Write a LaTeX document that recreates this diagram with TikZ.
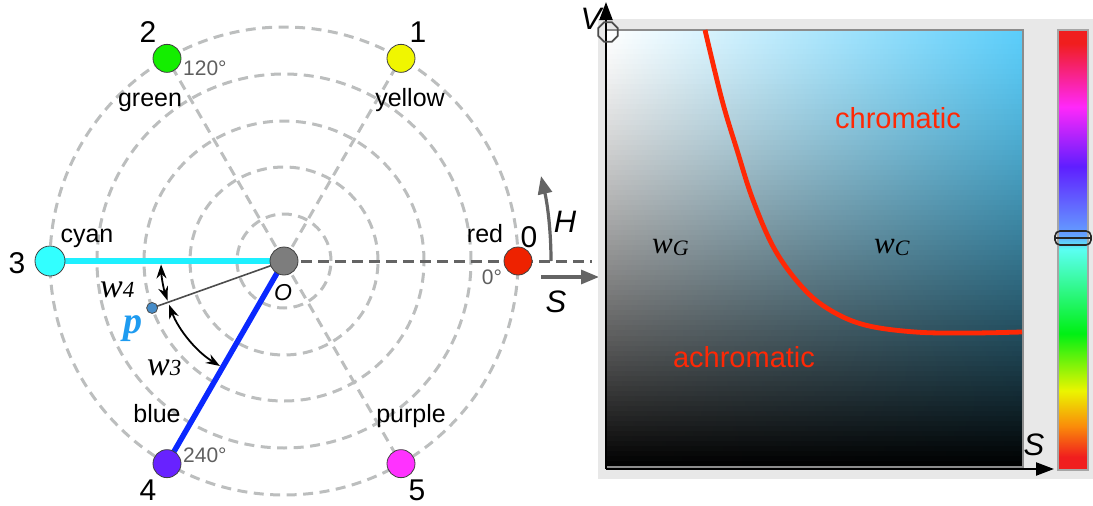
\documentclass[tikz,border=0pt]{standalone}
\usepackage{fontspec}
\setmainfont{Liberation Sans}
\newfontfamily\serifit{Liberation Serif}
\usetikzlibrary{arrows.meta,shapes.geometric}
\definecolor{ringgray}{RGB}{188,190,190}
\definecolor{axgray}{RGB}{100,100,100}
\definecolor{deggray}{RGB}{95,95,95}
\definecolor{cred}{RGB}{238,34,0}
\definecolor{cyellow}{RGB}{240,246,0}
\definecolor{cgreen}{RGB}{20,238,0}
\definecolor{ccyan}{RGB}{50,255,255}
\definecolor{cviolet}{RGB}{104,34,255}
\definecolor{cmag}{RGB}{255,50,255}
\definecolor{ogray}{RGB}{125,125,125}
\definecolor{linecyan}{RGB}{30,240,255}
\definecolor{lineblue}{RGB}{10,40,255}
\definecolor{pdot}{RGB}{70,140,200}
\definecolor{plabel}{RGB}{30,155,240}
\definecolor{panelgray}{RGB}{232,232,232}
\definecolor{sqcyan}{RGB}{90,205,250}
\definecolor{sqmid}{RGB}{145,228,252}
\definecolor{curvered}{RGB}{255,40,5}
\definecolor{hred}{RGB}{240,30,30}
\definecolor{horange}{RGB}{250,140,10}
\definecolor{hyellow}{RGB}{235,245,0}
\definecolor{hgreen}{RGB}{0,240,20}
\definecolor{hcyan}{RGB}{90,255,240}
\definecolor{hlblue}{RGB}{100,160,255}
\definecolor{hblue}{RGB}{95,30,255}
\definecolor{hmag}{RGB}{255,40,250}
\pgfdeclareverticalshading{huebar}{100bp}{color(0bp)=(hred); color(25bp)=(hred); color(26.5bp)=(hred); color(30bp)=(horange); color(34bp)=(hyellow); color(40.5bp)=(hgreen); color(50bp)=(hcyan); color(51.75bp)=(hlblue); color(59.5bp)=(hblue); color(66.25bp)=(hmag); color(73.5bp)=(hred); color(100bp)=(hred)}
\begin{document}
\begin{tikzpicture}[x=1pt,y=1pt,
  ring/.style={draw=ringgray, line width=3pt, dash pattern=on 10pt off 6.5pt},
  axdash/.style={draw=axgray, line width=3pt, dash pattern=on 11pt off 6pt},
  huedot/.style={circle, draw=black!75, line width=0.8pt, minimum size=28pt, inner sep=0pt},
  lab/.style={font=\fontsize{25}{30}\selectfont, anchor=base, inner sep=0pt},
  num/.style={font=\fontsize{30}{36}\selectfont, anchor=base, inner sep=0pt},
  degl/.style={font=\fontsize{21}{25}\selectfont, text=deggray, anchor=base west, inner sep=0pt},
  arcarrow/.style={draw=black, line width=1.8pt, {Stealth[length=14pt,width=10pt]}-{Stealth[length=14pt,width=10pt]}},
  garrow/.style={draw=axgray, line width=3.2pt, -{Triangle[length=18pt,width=14pt]}},
  axisarrow/.style={draw=black, line width=2.2pt, -{Triangle[length=18pt,width=13pt]}},
  itsans/.style={font=\fontsize{31}{36}\selectfont\itshape, inner sep=0pt, anchor=base},
  redtext/.style={font=\fontsize{29}{34}\selectfont, text=curvered, anchor=base, inner sep=0pt}
]
\useasboundingbox (0,0) rectangle (1093,-506);
% ---------- left: hue wheel ----------
\coordinate (cO) at (284,-261);
\coordinate (c0) at ([shift={(0:234)}]cO);
\coordinate (c1) at ([shift={(60:234)}]cO);
\coordinate (c2) at ([shift={(120:234)}]cO);
\coordinate (c3) at ([shift={(180:234)}]cO);
\coordinate (c4) at ([shift={(240:234)}]cO);
\coordinate (c5) at ([shift={(300:234)}]cO);
\coordinate (cp) at ([shift={(199.6:140)}]cO);
\coordinate (axEnd) at (592,-261);
\foreach \r in {47,94,140,187,234} \draw[ring] (cO) circle[radius=\r];
\draw[ring] (cO) -- (c1);
\draw[ring] (cO) -- (c2);
\draw[ring] (cO) -- (c5);
\draw[axdash] (cO) -- (axEnd);
\draw[draw=linecyan, line width=5.5pt] (c3) -- (cO);
\draw[draw=lineblue, line width=5.5pt] (cO) -- (c4);
\draw[draw=black!70, line width=1.6pt] (cp) -- (cO);
\draw[arcarrow] ([shift={(181.6:123)}]cO) arc[start angle=181.6, end angle=198.8, radius=123];
\draw[arcarrow] ([shift={(200.8:123)}]cO) arc[start angle=200.8, end angle=238.6, radius=123];
\node[huedot, fill=cred] (n0) at (c0) {};
\node[huedot, fill=cyellow] (n1) at (c1) {};
\node[huedot, fill=cgreen] (n2) at (c2) {};
\node[huedot, fill=ccyan, minimum size=30pt] (n3) at (c3) {};
\node[huedot, fill=cviolet] (n4) at (c4) {};
\node[huedot, fill=cmag] (n5) at (c5) {};
\node[huedot, fill=ogray] (O) at (cO) {};
\node[circle, draw=black!70, line width=0.8pt, fill=pdot, minimum size=11pt, inner sep=0pt] (p) at (cp) {};
% numbers
\node[num] (t0) at (529,-247) {0};
\node[num] (t1) at (418,-42) {1};
\node[num] (t2) at (148,-42) {2};
\node[num] (t3) at (17,-273) {3};
\node[num] (t4) at (148,-500) {4};
\node[num] (t5) at (417,-500) {5};
% colour names
\node[lab] (lred) at (485,-242) {red};
\node[lab] (lyellow) at (410,-106) {yellow};
\node[lab] (lgreen) at (150,-106) {green};
\node[lab] (lcyan) at (87,-242) {cyan};
\node[lab] (lblue) at (157,-422) {blue};
\node[lab] (lpurple) at (411,-422) {purple};
% degrees
\node[degl] (d120) at (183,-75) {120°};
\node[degl] (d240) at (183,-462) {240°};
\node[degl, anchor=base] (d0) at (492,-284) {0°};
% O, p, w labels
\node[itsans, font=\fontsize{23}{28}\selectfont\itshape] (lO) at (283,-300) {O};
\node[inner sep=0pt, anchor=base, text=plabel] (lp) at (133,-333) {\serifit\bfseries\itshape\fontsize{38}{40}\selectfont p};
\node[inner sep=0pt, anchor=base west] (w4) at (100,-297) {\serifit\itshape\fontsize{34}{36}\selectfont w\fontsize{23}{26}\selectfont 4};
\node[inner sep=0pt, anchor=base west] (w3) at (147,-375) {\serifit\itshape\fontsize{34}{36}\selectfont w\fontsize{23}{26}\selectfont 3};
% H and S arrows
\coordinate (hB) at (551,-261);
\coordinate (hT) at (541,-176);
\draw[garrow] (hB) .. controls (551,-228) and (547,-202) .. (hT);
\coordinate (sA) at (541,-277);
\coordinate (sB) at (599,-277);
\draw[garrow] (sA) -- (sB);
\node[itsans] (lH) at (565,-232) {H};
\node[itsans] (lS) at (556,-312) {S};
% ---------- right: S-V plane ----------
\fill[panelgray] (598,-19) rectangle (1093,-479);
\begin{scope}
\clip (606,-30) rectangle (1023,-467);
\foreach \i in {0,...,86} {
  \pgfmathsetmacro\ff{(\i+0.5)/87}
  \pgfmathsetmacro\vv{100*(1-\ff^1.3)}
  \pgfmathsetmacro\ya{-30-\i*5.023+0.4}
  \pgfmathsetmacro\yb{-30-(\i+1)*5.023-0.4}
  \colorlet{sl}{white!\vv!black}
  \colorlet{sm}{sqmid!\vv!black}
  \colorlet{sr}{sqcyan!\vv!black}
  \shade[left color=sl, middle color=sm, right color=sr] (606,\ya) rectangle (1023,\yb);
}
\end{scope}
\draw[draw=black!45, line width=1.5pt] (606,-30) rectangle (1023,-467);
\draw[draw=curvered, line width=4.8pt] plot[smooth, tension=0.6] coordinates {(705,-30) (722,-100) (737,-150) (753,-200) (775,-250) (803,-288) (830,-310) (865,-325) (915,-332) (970,-333) (1022,-332)};
\node[redtext] (chrom) at (898,-128) {chromatic};
\node[redtext] (achrom) at (744,-367) {achromatic};
\node[inner sep=0pt, anchor=base west] (wG) at (652,-253) {\serifit\itshape\fontsize{31}{34}\selectfont w\raisebox{-2pt}{\fontsize{22}{24}\selectfont G}};
\node[inner sep=0pt, anchor=base west] (wC) at (874,-253) {\serifit\itshape\fontsize{31}{34}\selectfont w\raisebox{-2pt}{\fontsize{22}{24}\selectfont C}};
% axes
\coordinate (vB) at (606,-469);
\coordinate (vT) at (606,-2);
\coordinate (sT) at (1054,-469);
\draw[axisarrow] (vB) -- (vT);
\draw[axisarrow] (vB) -- (sT);
\node[itsans] (lV) at (591,-30) {V};
\node[itsans] (lS2) at (1034,-455) {S};
\node[regular polygon, regular polygon sides=8, draw=black!70, line width=1.8pt, minimum size=21pt, inner sep=0pt] (oct) at (608,-32) {};
% hue bar
\shade[shading=huebar] (1058,-30) rectangle (1088,-470);
\draw[draw=black!35, line width=1.5pt] (1058,-30) rectangle (1088,-470);
\node[draw=black!85, rounded corners=5pt, line width=1.6pt, minimum width=36pt, minimum height=14pt, inner sep=0pt] (slider) at (1073,-238) {};
\draw[draw=black!85, line width=1.3pt] (slider.west) -- (slider.east);
\end{tikzpicture}
\end{document}
